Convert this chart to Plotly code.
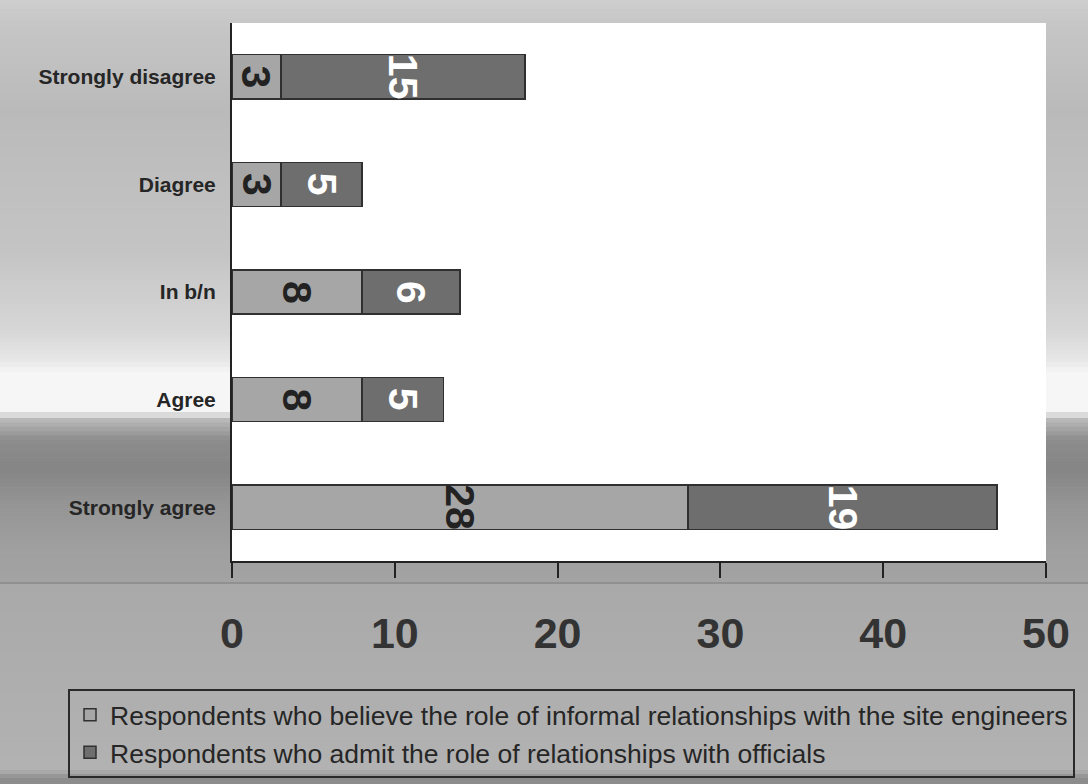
import plotly.graph_objects as go

# Survey responses, listed top to bottom
categories = ["Strongly disagree", "Diagree", "In b/n", "Agree", "Strongly agree"]
engineers = [3, 3, 8, 8, 28]   # informal relationships with the site engineers
officials = [15, 5, 6, 5, 19]  # relationships with officials
series_names = [
    "Respondents who believe the role of informal relationships with the site engineers",
    "Respondents who admit the role of relationships with officials",
]
x_ticks = [0, 10, 20, 30, 40, 50]

W, H = 1088, 784
L, R, T, B = 232, 42, 23, 223
PW, PH = W - L - R, H - T - B
FONT = "Liberation Sans, Arial, sans-serif"


def px_x(p):
    return (p - L) / PW


def px_y(p):
    return (H - B - p) / PH


def hexmix(c1, c2, t):
    a = [int(c1[i:i + 2], 16) for i in (1, 3, 5)]
    b = [int(c2[i:i + 2], 16) for i in (1, 3, 5)]
    return "#" + "".join(f"{round(a[k] + (b[k] - a[k]) * t):02x}" for k in range(3))


# slide background: vertical grey gradient (pixel row, colour)
stops = [
    (0, "#cfcfcf"), (23, "#c6c6c6"), (110, "#bababa"), (250, "#c4c4c4"),
    (330, "#d6d6d6"), (362, "#e8e8e8"), (372, "#f6f6f6"), (412, "#f6f6f6"),
    (418, "#bdbdbd"), (440, "#8c8c8c"), (470, "#858585"), (500, "#939393"),
    (545, "#9f9f9f"), (582, "#a3a3a3"), (584, "#a9a9a9"), (700, "#afafaf"),
    (770, "#b2b2b2"), (778, "#8e8e8e"), (784, "#8a8a8a"),
]
shapes = []
for (y0, c0), (y1, c1) in zip(stops[:-1], stops[1:]):
    n = max(1, int((y1 - y0) / 4))
    for k in range(n):
        ya = y0 + (y1 - y0) * k / n
        yb = y0 + (y1 - y0) * (k + 1) / n
        shapes.append(dict(type="rect", xref="paper", yref="paper", layer="below",
                           x0=px_x(0), x1=px_x(W), y0=px_y(yb + 0.6), y1=px_y(ya),
                           fillcolor=hexmix(c0, c1, (k + 0.5) / n), line_width=0))
# faint rule under the axis
shapes.append(dict(type="line", xref="paper", yref="paper", layer="below",
                   x0=px_x(0), x1=px_x(W), y0=px_y(583), y1=px_y(583),
                   line=dict(color="#7a7a7a", width=1)))
# white plotting area
shapes.append(dict(type="rect", xref="paper", yref="paper", layer="below",
                   x0=0, x1=1, y0=0, y1=1, fillcolor="#ffffff", line_width=0))

fig = go.Figure()
fig.add_trace(go.Bar(
    y=categories, x=engineers, orientation="h", name=series_names[0],
    marker=dict(color="#a6a6a6", line=dict(color="#303030", width=1.5)),
    width=0.41, hoverinfo="x+y",
))
fig.add_trace(go.Bar(
    y=categories, x=officials, orientation="h", name=series_names[1],
    marker=dict(color="#6e6e6e", line=dict(color="#303030", width=1.5)),
    width=0.41, hoverinfo="x+y",
))

# rotated value labels centred in each segment
annotations = []
for cat, a, b in zip(categories, engineers, officials):
    annotations.append(dict(x=a / 2, y=cat, xref="x", yref="y", text=str(a),
                            showarrow=False, textangle=90,
                            font=dict(family=FONT, size=41, color="#222222", weight="bold")))
    annotations.append(dict(x=a + b / 2, y=cat, xref="x", yref="y", text=str(b),
                            showarrow=False, textangle=90,
                            font=dict(family=FONT, size=41, color="#ffffff", weight="bold")))

fig.update_layout(
    width=W, height=H,
    margin=dict(l=L, r=R, t=T, b=B, pad=0, autoexpand=False),
    barmode="stack",
    paper_bgcolor="#b4b4b4",
    plot_bgcolor="rgba(0,0,0,0)",
    shapes=shapes,
    annotations=annotations,
    font=dict(family=FONT, color="#222222"),
    showlegend=True,
    legend=dict(
        x=px_x(68), y=px_y(689), xanchor="left", yanchor="top",
        bgcolor="rgba(0,0,0,0)", bordercolor="#2a2a2a", borderwidth=2,
        font=dict(family=FONT, size=26.5, color="#262626"),
        traceorder="normal", itemwidth=30,
    ),
    xaxis=dict(
        range=[0, 50], tickvals=x_ticks, ticks="outside", ticklen=15,
        tickwidth=2, tickcolor="#222222", showline=True, linecolor="#222222",
        linewidth=2, showgrid=False, zeroline=False, ticklabelstandoff=18,
        tickfont=dict(family=FONT, size=43, color="#333333", weight="bold"),
    ),
    yaxis=dict(
        categoryorder="array", categoryarray=categories, autorange="reversed",
        showline=True, linecolor="#222222", linewidth=2, ticks="",
        showgrid=False, zeroline=False, ticklabelstandoff=10,
        tickfont=dict(family=FONT, size=21, color="#262626", weight="bold"),
    ),
)

fig.write_html("out.html")
